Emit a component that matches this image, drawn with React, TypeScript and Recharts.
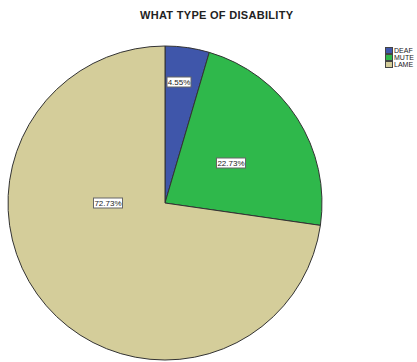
import React from "react";
import { PieChart, Pie, Cell, Legend } from "recharts";

const categories = ["DEAF", "MUTE", "LAME"];
const percents = [4.55, 22.73, 72.73];
const labels = ["4.55%", "22.73%", "72.73%"];
const colors = ["#3f56aa", "#2fb84b", "#d4cd9a"];
// label box offsets from pie centre (px)
const labelOffsets = [
  [14, -121],
  [66, -40],
  [-57, 0],
];

const data = categories.map((c, i) => ({ name: c, value: percents[i] }));

const renderLabel = (props: any) => {
  const { cx, cy, index } = props;
  const [dx, dy] = labelOffsets[index];
  const x = cx + dx;
  const y = cy + dy;
  const w = index === 0 ? 24 : 29;
  return (
    <g>
      <rect x={x - w / 2} y={y - 5} width={w} height={10} fill="#ffffff" stroke="#666" strokeWidth={1} />
      <text x={x} y={y + 3} textAnchor="middle" fontSize={8} fontFamily="Liberation Sans, Arial, sans-serif" fill="#222">
        {labels[index]}
      </text>
    </g>
  );
};

const renderLegend = () => (
  <div style={{ fontFamily: "Liberation Sans, Arial, sans-serif", fontSize: 7, color: "#222", lineHeight: "7px" }}>
    {categories.map((c, i) => (
      <div key={c} style={{ display: "flex", alignItems: "center", height: 7 }}>
        <span style={{ display: "inline-block", width: 6, height: 5, background: colors[i], border: "1px solid #444", marginRight: 1 }} />
        <span>{c}</span>
      </div>
    ))}
  </div>
);

export default function App() {
  return (
    <div style={{ position: "absolute", left: 0, top: 0, width: 417, height: 362, background: "#fff" }}>
      <div
        style={{
          position: "absolute",
          left: 140,
          top: 9,
          width: 170,
          fontFamily: "Liberation Sans, Arial, sans-serif",
          fontSize: 11,
          letterSpacing: 0.3,
          fontWeight: "bold",
          color: "#222",
          whiteSpace: "nowrap",
          zIndex: 2,
        }}
      >
        WHAT TYPE OF DISABILITY
      </div>
      <PieChart width={417} height={362} margin={{ top: 0, right: 0, bottom: 0, left: 0 }}>
        <Pie
          data={data}
          dataKey="value"
          nameKey="name"
          cx={165}
          cy={203}
          outerRadius={157}
          startAngle={90}
          endAngle={-270}
          stroke="#333"
          strokeWidth={1}
          isAnimationActive={false}
          label={renderLabel}
          labelLine={false}
        >
          {data.map((d, i) => (
            <Cell key={d.name} fill={colors[i]} />
          ))}
        </Pie>
        <Legend
          layout="vertical"
          verticalAlign="top"
          align="right"
          content={renderLegend}
          wrapperStyle={{ position: "absolute", left: 385, top: 47, width: 32 }}
        />
      </PieChart>
    </div>
  );
}
